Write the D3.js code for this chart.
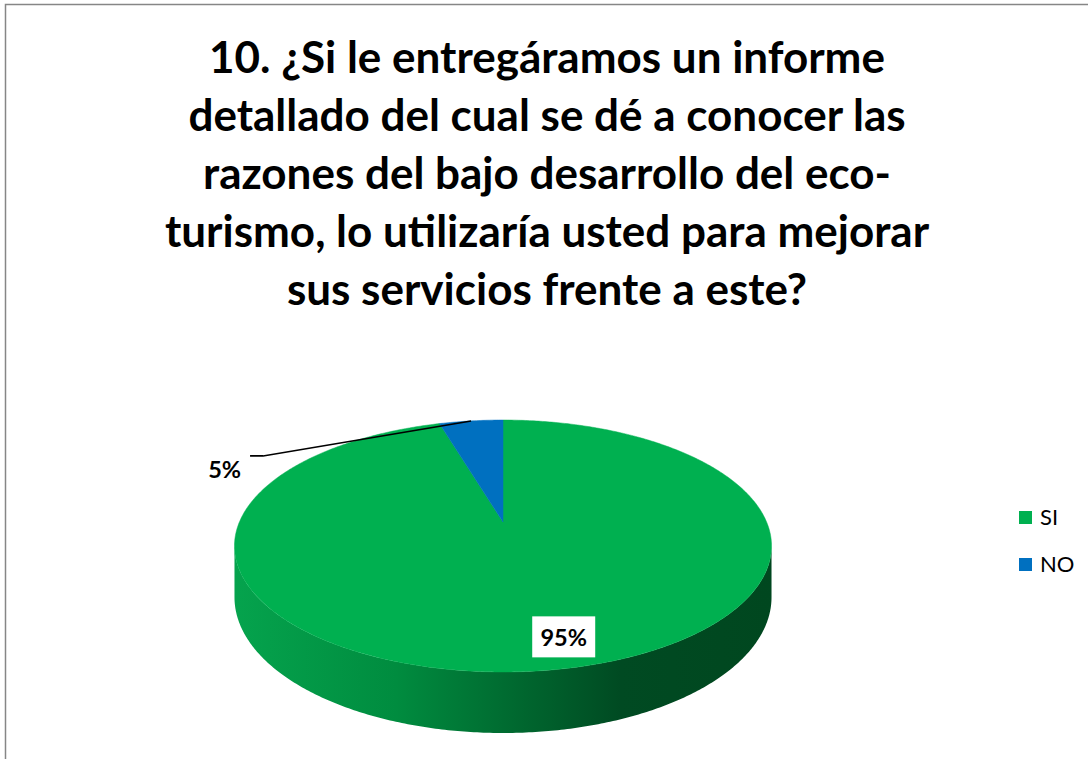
<!DOCTYPE html>
<html>
<head>
<meta charset="utf-8">
<script src="https://cdn.jsdelivr.net/npm/d3@7"></script>
<style>
  body { margin: 0; background: #fff; }
  svg { display: block; font-family: Lato, "Open Sans", sans-serif; }
</style>
</head>
<body>
<div id="chart"></div>
<script>
// chart data
const titleLines = [
    "10. ¿Si le entregáramos un informe",
    "detallado del cual se dé a conocer las",
    "razones del bajo desarrollo del eco-",
    "turismo, lo utilizaría usted para mejorar",
    "sus servicios frente a este?"
];
const categories = ["SI", "NO"];
const values = [95.4, 4.6];
const colors = ["#00B050", "#0070C0"];

const width = 1088;
const height = 759;

const svg = d3.select("#chart")
    .append("svg")
    .attr("width", width)
    .attr("height", height);

// chart area border (runs off the right and bottom of the picture)
svg.append("rect")
    .attr("x", 5.5)
    .attr("y", 4.5)
    .attr("width", width + 20)
    .attr("height", height + 20)
    .attr("fill", "#fff")
    .attr("stroke", "#868686")
    .attr("stroke-width", 1.5);

// title
svg.append("text")
    .attr("text-anchor", "middle")
    .attr("font-size", "44px")
    .attr("font-weight", "bold")
    .attr("fill", "#000")
    .selectAll("tspan")
    .data(titleLines)
    .enter()
    .append("tspan")
    .attr("x", 547)
    .attr("y", (d, i) => 73 + i * 58)
    .text(d => d);

// 3D pie: projection of the disk with a bit of perspective
const cx = 503, cy = 522;
const A = 263.6, B = 121.4, k = 0.1905, H = 49.4;

function project(theta, r, depth) {
    const u = r * Math.sin(theta);
    const v = -r * Math.cos(theta);
    const s = 1 / (1 - k * v);
    return [cx + A * u * s, cy + B * v * s + (depth ? H * s : 0)];
}

function arcPoints(a0, a1, r, depth) {
    const n = Math.max(2, Math.ceil(Math.abs(a1 - a0) / 0.01));
    return d3.range(n + 1).map(i => project(a0 + (a1 - a0) * i / n, r, depth));
}

const pie = d3.pie().sort(null).value(d => d)(values);

// side gradient
const defs = svg.append("defs");
const grad = defs.append("linearGradient")
    .attr("id", "side")
    .attr("gradientUnits", "userSpaceOnUse")
    .attr("x1", 235).attr("x2", 772)
    .attr("y1", 0).attr("y2", 0);
[[0, "#05a34d"], [0.3, "#008c3f"], [0.5, "#006c31"], [0.72, "#004a22"], [1, "#00471f"]]
    .forEach(s => grad.append("stop").attr("offset", s[0]).attr("stop-color", s[1]));

// visible front wall between the two silhouette points
const tRight = Math.PI - Math.acos(k);
const tLeft = Math.PI + Math.acos(k);
const sidePts = arcPoints(tRight, tLeft, 1, false)
    .concat(arcPoints(tLeft, tRight, 1, true));
svg.append("path")
    .attr("d", d3.line()(sidePts) + "Z")
    .attr("fill", "url(#side)");

// top faces
svg.selectAll("path.slice")
    .data(pie)
    .enter()
    .append("path")
    .attr("class", "slice")
    .attr("d", d => d3.line()([project(0, 0, false)].concat(arcPoints(d.startAngle, d.endAngle, 1, false))) + "Z")
    .attr("fill", (d, i) => colors[i])
    .attr("stroke", (d, i) => colors[i])
    .attr("stroke-width", 0.5);

const total = d3.sum(values);
const pct = v => Math.round(v / total * 100) + "%";

// 95% label inside with white box
const big = pie[0];
const bigPos = project((big.startAngle + big.endAngle) / 2, 0.78, false);
const lx = bigPos[0] + 26, ly = bigPos[1] + 5;
svg.append("rect")
    .attr("x", lx - 31.5)
    .attr("y", ly - 20.5)
    .attr("width", 63)
    .attr("height", 41)
    .attr("fill", "#fff");
svg.append("text")
    .attr("x", lx)
    .attr("y", ly + 9)
    .attr("text-anchor", "middle")
    .attr("font-size", "23.5px")
    .attr("font-weight", "bold")
    .text(pct(big.value));

// 5% label outside with leader line
const small = pie[1];
const edge = project((small.startAngle + small.endAngle) / 2, 1, false);
const elbow = [edge[0] - 208, edge[1] + 35];
svg.append("path")
    .attr("d", d3.line()([edge, elbow, [elbow[0] - 13, elbow[1]]]))
    .attr("fill", "none")
    .attr("stroke", "#000")
    .attr("stroke-width", 1.6);
svg.append("text")
    .attr("x", elbow[0] - 22)
    .attr("y", elbow[1] + 22)
    .attr("text-anchor", "end")
    .attr("font-size", "23.5px")
    .attr("font-weight", "bold")
    .text(pct(small.value));

// legend
const legend = svg.selectAll("g.legend")
    .data(categories)
    .enter()
    .append("g")
    .attr("class", "legend")
    .attr("transform", (d, i) => `translate(1019, ${511 + i * 47})`);
legend.append("rect")
    .attr("width", 13)
    .attr("height", 13)
    .attr("fill", (d, i) => colors[i]);
legend.append("text")
    .attr("x", 21)
    .attr("y", 14)
    .attr("font-size", "22px")
    .attr("fill", "#000")
    .text(d => d);
</script>
</body>
</html>
